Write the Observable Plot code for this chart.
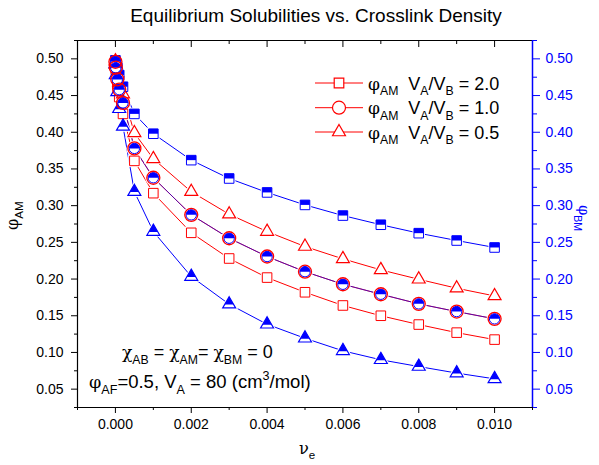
<!DOCTYPE html>
<html><head><meta charset="utf-8">
<script src="https://cdn.jsdelivr.net/npm/d3@7"></script>
<script src="https://cdn.jsdelivr.net/npm/@observablehq/plot@0.6"></script>
<style>body{margin:0;background:#fff;} svg{display:block;}</style>
</head><body><div id="chart"></div>
<script>
// ---- data ----
const nu = [0, 0.00001, 0.00005, 0.0001, 0.0002, 0.0005, 0.001, 0.002, 0.003, 0.004, 0.005, 0.006, 0.007, 0.008, 0.009, 0.010];
const phiAM_r2  = [0.495, 0.485, 0.466, 0.448, 0.425, 0.361, 0.317, 0.263, 0.228, 0.202, 0.182, 0.164, 0.150, 0.138, 0.127, 0.1175];
const phiBM_r2  = [0.498, 0.495, 0.488, 0.478, 0.462, 0.425, 0.398, 0.362, 0.337, 0.318, 0.301, 0.2865, 0.274, 0.2625, 0.2525, 0.243];
const phiAM_r1  = [0.496, 0.488, 0.472, 0.458, 0.440, 0.378, 0.338, 0.2875, 0.2556, 0.2307, 0.210, 0.1929, 0.1793, 0.1662, 0.1557, 0.1458];
const phiBM_r1  = phiAM_r1.slice();
const phiAM_r05 = [0.497, 0.492, 0.481, 0.468, 0.452, 0.399, 0.3638, 0.319, 0.2883, 0.2647, 0.2443, 0.2275, 0.2125, 0.1997, 0.1875, 0.177];
const phiBM_r05 = [0.493, 0.478, 0.455, 0.432, 0.408, 0.319, 0.2647, 0.2034, 0.1657, 0.1384, 0.1193, 0.1022, 0.090, 0.0808, 0.0719, 0.064];
const xMajor = [0, 0.002, 0.004, 0.006, 0.008, 0.010];
const xMinor = [-0.001, 0.001, 0.003, 0.005, 0.007, 0.009, 0.011];
const yMajor = [0.05, 0.10, 0.15, 0.20, 0.25, 0.30, 0.35, 0.40, 0.45, 0.50];
const yMinor = [0.025, 0.075, 0.125, 0.175, 0.225, 0.275, 0.325, 0.375, 0.425, 0.475, 0.525];
const legendLabels = ["2.0", "1.0", "0.5"];

const toRows = (ys) => nu.map((x, i) => ({x, y: ys[i]}));
const sqA = toRows(phiAM_r2), sqB = toRows(phiBM_r2);
const ciA = toRows(phiAM_r1), ciB = toRows(phiBM_r1);
const trA = toRows(phiAM_r05), trB = toRows(phiBM_r05);

const RED = "#ff0000", BLUE = "#0000ff";
const FONT = "Liberation Sans, Arial, Helvetica, sans-serif";
const GREEK = "DejaVu Serif, serif";

// custom half-filled symbols
const halfSquare = {draw(c, size){ const s = Math.sqrt(size); c.moveTo(-s/2,-s/2); c.lineTo(s/2,-s/2); c.lineTo(s/2,0); c.lineTo(-s/2,0); c.closePath(); }};
const halfCircle = {draw(c, size){ const r = Math.sqrt(size/Math.PI); c.moveTo(-r,0); c.arc(0,0,r,Math.PI,2*Math.PI); c.closePath(); }};
const topTriangle = {draw(c, size){ const y = -Math.sqrt(size/(3*Math.sqrt(3))); const top = 2*y, h = -3*y, f = 0.7; const ys = top + f*h, hw = f*(-Math.sqrt(3)*y); c.moveTo(0,top); c.lineTo(hw,ys); c.lineTo(-hw,ys); c.closePath(); }};

const RS = 5.4, RT = 4.8, RC = 5.2;
const xy = {x: "x", y: "y"};

const plot = Plot.plot({
  width: 599, height: 465,
  marginLeft: 77, marginRight: 67, marginTop: 40, marginBottom: 58,
  x: {domain: [-0.001, 0.011], axis: null},
  y: {domain: [0.025, 0.525], axis: null},
  style: {fontFamily: FONT, background: "white", color: "black"},
  marks: [
    // ticks
    Plot.axisX({anchor: "bottom", ticks: xMajor, tickFormat: d3.format(".3f"), tickSize: 6, tickPadding: 6, fontSize: 14, label: null}),
    Plot.axisX({anchor: "bottom", ticks: xMinor, tickFormat: () => "", tickSize: 3, label: null}),
    Plot.ruleX(xMajor, {stroke: "black", insetBottom: 360}),
    Plot.ruleX(xMinor, {stroke: "black", insetBottom: 363}),
    Plot.axisY({anchor: "left", ticks: yMajor, tickFormat: d3.format(".2f"), tickSize: 6, tickPadding: 8, fontSize: 14, label: null}),
    Plot.axisY({anchor: "left", ticks: yMinor, tickFormat: () => "", tickSize: 3, label: null}),
    Plot.axisY({anchor: "right", ticks: yMajor, tickFormat: d3.format(".2f"), tickSize: 7, tickPadding: 6, fontSize: 14, label: null, color: BLUE, stroke: BLUE, fill: BLUE}),
    Plot.axisY({anchor: "right", ticks: yMinor, tickFormat: () => "", tickSize: 4, label: null, stroke: BLUE}),
    // frame
    Plot.ruleY([0.525], {stroke: "black", strokeWidth: 1.2}),
    Plot.ruleY([0.025], {stroke: "black", strokeWidth: 1.2}),
    Plot.ruleX([-0.001], {stroke: "black", strokeWidth: 1.2}),
    Plot.ruleX([0.011], {stroke: BLUE, strokeWidth: 1.5}),
    // lines
    Plot.line(sqA, {...xy, stroke: RED, strokeWidth: 1}),
    Plot.line(trA, {...xy, stroke: RED, strokeWidth: 1}),
    Plot.line(sqB, {...xy, stroke: BLUE, strokeWidth: 1}),
    Plot.line(trB, {...xy, stroke: BLUE, strokeWidth: 1}),
    Plot.line(ciA, {...xy, stroke: RED, strokeWidth: 1}),
    Plot.line(ciB, {...xy, stroke: BLUE, strokeWidth: 1, strokeOpacity: 0.65}),
    // halos (gap around markers)
    Plot.dot(sqA, {...xy, symbol: "square", r: RS + 1.6, fill: "white", stroke: "none"}),
    Plot.dot(sqB, {...xy, symbol: "square", r: RS + 1.6, fill: "white", stroke: "none"}),
    Plot.dot(trA, {...xy, symbol: "triangle", r: RT + 2, fill: "white", stroke: "none"}),
    Plot.dot(trB, {...xy, symbol: "triangle", r: RT + 2, fill: "white", stroke: "none"}),
    Plot.dot(ciA, {...xy, symbol: "circle", r: RC + 2.8, fill: "white", stroke: "none"}),
    // markers
    Plot.dot(sqA, {...xy, symbol: "square", r: RS, fill: "white", stroke: RED, strokeWidth: 1}),
    Plot.dot(trA, {...xy, symbol: "triangle", r: RT, fill: "white", stroke: RED, strokeWidth: 1.2}),
    Plot.dot(sqB, {...xy, symbol: "square", r: RS, fill: "white", stroke: BLUE, strokeWidth: 1}),
    Plot.dot(sqB, {...xy, symbol: halfSquare, r: RS, fill: BLUE, stroke: "none"}),
    Plot.dot(trB, {...xy, symbol: "triangle", r: RT, fill: "white", stroke: BLUE, strokeWidth: 1.2}),
    Plot.dot(trB, {...xy, symbol: topTriangle, r: RT, fill: BLUE, stroke: "none"}),
    Plot.dot(ciB, {...xy, symbol: "circle", r: RC, fill: "white", stroke: BLUE, strokeWidth: 1}),
    Plot.dot(ciB, {...xy, symbol: halfCircle, r: RC, fill: BLUE, stroke: "none"}),
    Plot.dot(ciA, {...xy, symbol: "circle", r: RC + 1.3, fill: "none", stroke: RED, strokeWidth: 1.3})
  ]
});

document.getElementById("chart").appendChild(plot);

// ---- text with sub/superscripts ----
const svg = d3.select(plot);
function rich(x, y, parts, size, color, opts = {}) {
  const t = svg.append("text").attr("x", x).attr("y", y)
    .attr("font-size", size).attr("fill", color || "black")
    .attr("font-family", FONT)
    .attr("text-anchor", opts.anchor || "start");
  if (opts.transform) t.attr("transform", opts.transform).attr("x", 0).attr("y", 0);
  let shift = 0;
  for (const p of parts) {
    const [s, kind] = Array.isArray(p) ? p : [p, null];
    const target = kind === "sub" ? 0.32 * size : kind === "sup" ? -0.42 * size : 0;
    const isGreek = /^[\u03B1-\u03C9]$/.test(s);
    const fs = kind ? size * 0.68 : (isGreek ? size * 0.95 : size);
    const ts = t.append("tspan").attr("dy", target - shift).attr("font-size", fs).text(s);
    if (isGreek) ts.attr("font-family", GREEK);
    shift = target;
  }
  return t;
}

// title
rich(316, 22, ["Equilibrium Solubilities vs. Crosslink Density"], 19, "black", {anchor: "middle"});
// axis titles
rich(0, 0, ["\u03C6", ["AM", "sub"]], 17, "black", {transform: "translate(18,230) rotate(-90)"});
rich(0, 0, ["\u03C6", ["BM", "sub"]], 15.5, BLUE, {transform: "translate(579,205) rotate(90)"});
rich(299, 454, ["\u03BD", ["e", "sub"]], 17, "black");

// annotations
rich(122, 358, ["\u03C7", ["AB", "sub"], " = ", "\u03C7", ["AM", "sub"], "= ", "\u03C7", ["BM", "sub"], " = 0"], 18, "black");
rich(89, 388, ["\u03C6", ["AF", "sub"], "=0.5, V", ["A", "sub"], " = 80 (cm", ["3", "sup"], "/mol)"], 18.5, "black");

// legend
const legSymbols = [d3.symbolSquare, d3.symbolCircle, d3.symbolTriangle];
const legR = [RS, RC + 1.3, RT];
const legY = [83, 107.7, 132];
legendLabels.forEach((lab, i) => {
  const y = legY[i];
  svg.append("line").attr("x1", 315).attr("x2", 363).attr("y1", y).attr("y2", y).attr("stroke", RED).attr("stroke-width", 1);
  svg.append("path").attr("transform", `translate(339,${y})`)
    .attr("d", d3.symbol(legSymbols[i], legR[i] * legR[i] * Math.PI)())
    .attr("fill", "white").attr("stroke", RED).attr("stroke-width", 1.2);
  rich(368, y + 6.5, ["\u03C6", ["AM", "sub"], "  V", ["A", "sub"], "/V", ["B", "sub"], " = " + lab], 18, "black");
});
</script>
</body></html>
